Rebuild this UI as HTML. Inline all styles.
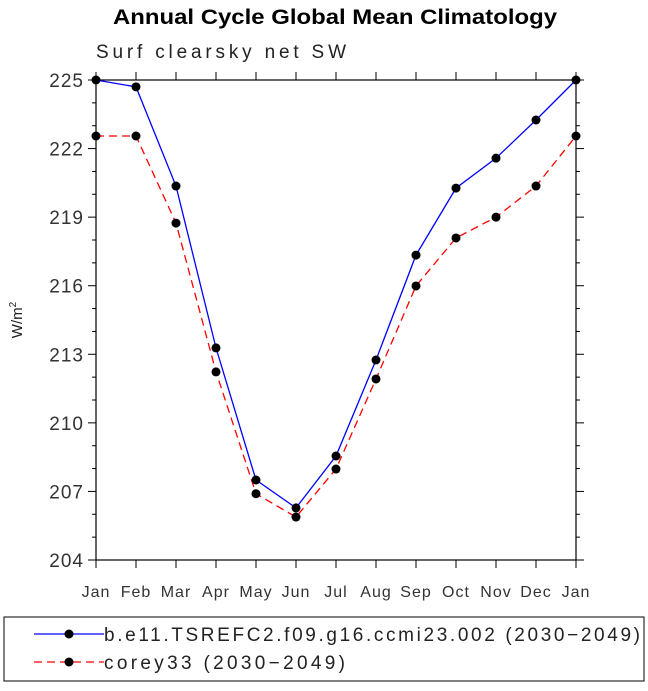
<!DOCTYPE html>
<html><head><meta charset="utf-8"><style>
body{margin:0;background:#fff;}
svg text{font-family:"Liberation Sans",sans-serif;}
</style></head><body>
<svg width="648" height="686" id="c">
<text x="113" y="24" textLength="444" lengthAdjust="spacingAndGlyphs" font-size="21" font-weight="bold">Annual Cycle Global Mean Climatology</text>
<text x="96" y="58" font-size="19" fill="#222" textLength="250">Surf clearsky net SW</text>
<text transform="translate(22,320) rotate(-90)" text-anchor="middle" font-size="15" fill="#222">W/m<tspan dy="-6" font-size="10">2</tspan></text>
<g id="axes"></g>
<g id="marks"></g>
<rect x="4" y="617" width="640" height="64" fill="none" stroke="#000" stroke-width="1"/>
<g>
<line x1="34" y1="634" x2="104" y2="634" stroke="#0000ff" stroke-width="1.3"/>
<circle cx="69" cy="634" r="4.5" fill="#000"/>
<text x="104" y="641" font-size="19" fill="#222" textLength="536">b.e11.TSREFC2.f09.g16.ccmi23.002 (2030−2049)</text>
</g>
<g>
<line x1="34" y1="662" x2="104" y2="662" stroke="#ff0000" stroke-width="1.3" stroke-dasharray="8,5"/>
<circle cx="69" cy="662" r="4.5" fill="#000"/>
<text x="104" y="669" font-size="19" fill="#222" textLength="241">corey33 (2030−2049)</text>
</g>
</svg>
<script>
const months=["Jan","Feb","Mar","Apr","May","Jun","Jul","Aug","Sep","Oct","Nov","Dec","Jan"];
const blueVals=[225.0,224.7,220.36,213.28,207.5,206.28,208.55,212.75,217.34,220.27,221.58,223.25,225.0];
const redVals=[222.55,222.55,218.74,212.23,206.9,205.88,207.98,211.92,215.99,218.09,219.0,220.36,222.55];
const yTicks=[204,207,210,213,216,219,222,225];
const X0=96,X1=576,Y0=80,Y1=560,YMIN=204,YMAX=225;
const NS="http://www.w3.org/2000/svg";
function xs(i){return X0+(X1-X0)*i/(months.length-1);}
function ys(v){return Y1-(v-YMIN)/(YMAX-YMIN)*(Y1-Y0);}
function mk(t,a,p){const e=document.createElementNS(NS,t);for(const k in a)e.setAttribute(k,a[k]);p.appendChild(e);return e;}
const ax=document.getElementById('axes'),mg=document.getElementById('marks');
const frame=mk('rect',{x:X0,y:Y0,width:X1-X0,height:Y1-Y0,fill:'none',stroke:'#000','stroke-width':1.2},ax);


for(let v=YMIN;v<=YMAX;v++){
  const major=yTicks.includes(v),L=major?8:4,y=ys(v);
  mk('line',{x1:X0-L,y1:y,x2:X0,y2:y,stroke:'#000'},ax);
  mk('line',{x1:X1,y1:y,x2:X1+L,y2:y,stroke:'#000'},ax);
}
yTicks.forEach(v=>{const t=mk('text',{x:X0-12,y:ys(v)+7,'text-anchor':'end','font-size':19,fill:'#333','letter-spacing':1},ax);t.textContent=v;

});
months.forEach((m,i)=>{const x=xs(i);
  mk('line',{x1:x,y1:Y0-8,x2:x,y2:Y0,stroke:'#000'},ax);
  mk('line',{x1:x,y1:Y1,x2:x,y2:Y1+8,stroke:'#000'},ax);
  const t=mk('text',{x:x,y:Y1+37,'text-anchor':'middle','font-size':16,fill:'#333','letter-spacing':1},ax);t.textContent=m;
  
  });
function series(vals,col,dash,name){
  const p=mk('polyline',{points:vals.map((v,i)=>xs(i)+','+ys(v)).join(' '),fill:'none',stroke:col,'stroke-width':1.3},mg);
  if(dash)p.setAttribute('stroke-dasharray','8,5');
  
  
  vals.forEach((v,i)=>{const c=mk('circle',{cx:xs(i),cy:ys(v),r:4.5,fill:'#000'},mg);
  
  });
}
series(redVals,'#ff0000',true,'corey33');
series(blueVals,'#0000ff',false,'ccmi23');
</script>
</body></html>
